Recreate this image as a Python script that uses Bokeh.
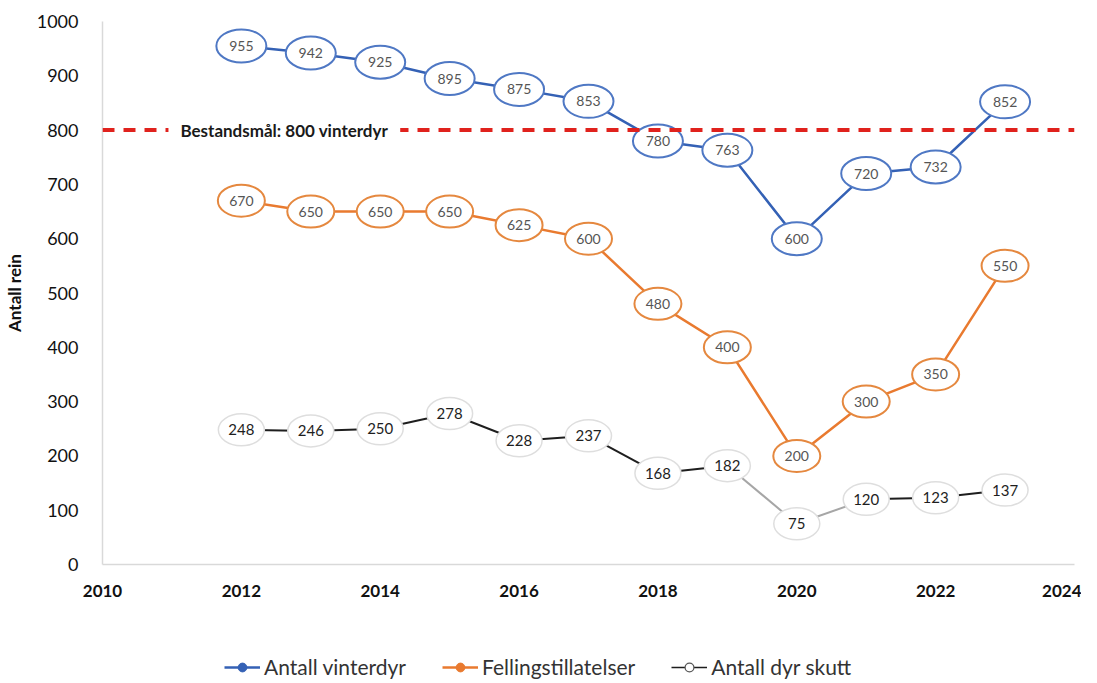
from bokeh.plotting import figure
from bokeh.layouts import column
from bokeh.models import (Legend, LegendItem, Label, ColumnDataSource, FixedTicker, Span)
from bokeh.embed import file_html
from bokeh.resources import INLINE
from bokeh.core.properties import value

# ---- data ----
years = [2012, 2013, 2014, 2015, 2016, 2017, 2018, 2019, 2020, 2021, 2022, 2023]
vinterdyr = [955, 942, 925, 895, 875, 853, 780, 763, 600, 720, 732, 852]
fellingstillatelser = [670, 650, 650, 650, 625, 600, 480, 400, 200, 300, 350, 550]
dyr_skutt = [248, 246, 250, 278, 228, 237, 168, 182, 75, 120, 123, 137]
bestandsmaal = 800
bestandsmaal_label = "Bestandsmål: 800 vinterdyr"
x_ticks = [2010, 2012, 2014, 2016, 2018, 2020, 2022, 2024]
y_ticks = [0, 100, 200, 300, 400, 500, 600, 700, 800, 900, 1000]
series_names = ["Antall vinterdyr", "Fellingstillatelser", "Antall dyr skutt"]
y_label = "Antall rein"

# ---- styles ----
BLUE_LINE = "#3461b5"
BLUE_EDGE = "#4f78c4"
ORANGE_LINE = "#e97a2f"
ORANGE_EDGE = "#e5883f"
GRAY_EDGE = "#dedede"
GRAY_DARK = "#1e1e1e"
GRAY_LIGHT = "#a6a6a6"
FONT = "Lato"
W = 1081

p = figure(width=W, height=603, output_backend="svg", toolbar_location=None,
           x_range=(x_ticks[0], x_ticks[-1]), y_range=(y_ticks[0], y_ticks[-1]),
           min_border_left=93, min_border_right=7, min_border_top=21,
           min_border_bottom=39)
p.outline_line_color = None
p.xgrid.grid_line_color = None
p.ygrid.grid_line_color = None

p.xaxis.ticker = FixedTicker(ticks=x_ticks)
p.yaxis.ticker = FixedTicker(ticks=y_ticks)
for ax in (p.xaxis, p.yaxis):
    ax.axis_line_color = "#d9d9d9"
    ax.axis_line_width = 1.5
    ax.major_tick_line_color = None
    ax.minor_tick_line_color = None
    ax.major_label_text_font = FONT
    ax.major_label_text_color = "#111111"
p.xaxis.major_label_text_font_style = "bold"
p.xaxis.major_label_text_font_size = "17px"
p.xaxis.major_label_standoff = 14
p.yaxis.major_label_text_font_size = "18px"
p.yaxis.major_label_standoff = 18
p.yaxis.axis_label = y_label
p.yaxis.axis_label_text_font = FONT
p.yaxis.axis_label_text_font_style = "bold"
p.yaxis.axis_label_text_font_size = "17px"
p.yaxis.axis_label_text_color = "#111111"
p.yaxis.axis_label_standoff = 9

# target line
span = Span(location=bestandsmaal, dimension="width", line_color="#e0221d",
            line_width=4, line_dash="12 9")
p.add_layout(span)
p.add_layout(Label(x=2010.95, y=bestandsmaal, text=bestandsmaal_label,
                   text_font=FONT, text_font_style="bold", text_font_size="17px",
                   text_color="#1a1a1a", text_baseline="middle",
                   background_fill_color="white", padding=12))

# blue series
src_b = ColumnDataSource(dict(x=years, y=vinterdyr, t=[str(v) for v in vinterdyr]))
p.line("x", "y", source=src_b, line_color=BLUE_LINE, line_width=2.5)
p.ellipse("x", "y", width=50, height=33, width_units="screen", height_units="screen",
          source=src_b, fill_color="white", line_color=BLUE_EDGE, line_width=2)
p.text("x", "y", text="t", source=src_b, text_align="center", text_baseline="middle",
       text_font=value(FONT), text_font_size="14px", text_color="#555555")

# orange series
src_o = ColumnDataSource(dict(x=years, y=fellingstillatelser,
                              t=[str(v) for v in fellingstillatelser]))
p.line("x", "y", source=src_o, line_color=ORANGE_LINE, line_width=2.5)
p.ellipse("x", "y", width=47, height=32, width_units="screen", height_units="screen",
          source=src_o, fill_color="white", line_color=ORANGE_EDGE, line_width=2)
p.text("x", "y", text="t", source=src_o, text_align="center", text_baseline="middle",
       text_font=value(FONT), text_font_size="14px", text_color="#555555")

# gray series
seg_colors = [GRAY_DARK] * (len(years) - 1)
seg_colors[7] = GRAY_LIGHT
seg_colors[8] = GRAY_LIGHT
src_g_seg = ColumnDataSource(dict(x0=years[:-1], x1=years[1:], y0=dyr_skutt[:-1],
                                  y1=dyr_skutt[1:], c=seg_colors))
p.segment("x0", "y0", "x1", "y1", source=src_g_seg, line_color="c", line_width=2)
src_g = ColumnDataSource(dict(x=years, y=dyr_skutt, t=[str(v) for v in dyr_skutt]))
p.ellipse("x", "y", width=46, height=32, width_units="screen", height_units="screen",
          source=src_g, fill_color="white", line_color=GRAY_EDGE, line_width=1.5)
p.text("x", "y", text="t", source=src_g, text_align="center", text_baseline="middle",
       text_font=value(FONT), text_font_size="15px", text_color="#1e1e1e")

# ---- legend strip (same data, ranges keep the marks out of view) ----
lf = figure(width=W, height=76, output_backend="svg", toolbar_location=None,
            x_range=(0, 1), y_range=(0, 1), x_axis_type=None, y_axis_type=None,
            min_border_left=93, min_border_right=7, min_border_top=0, min_border_bottom=0)
lf.outline_line_color = None
lf.xgrid.grid_line_color = None
lf.ygrid.grid_line_color = None
l1 = lf.line("x", "y", source=src_b, line_color=BLUE_LINE, line_width=2.5)
s1 = lf.scatter("x", "y", source=src_b, size=9, fill_color=BLUE_LINE, line_color=BLUE_LINE)
l2 = lf.line("x", "y", source=src_o, line_color=ORANGE_LINE, line_width=2.5)
s2 = lf.scatter("x", "y", source=src_o, size=9, fill_color=ORANGE_LINE, line_color=ORANGE_LINE)
l3 = lf.line("x", "y", source=src_g, line_color=GRAY_DARK, line_width=1.5)
s3 = lf.scatter("x", "y", source=src_g, size=8, fill_color="white", line_color="#555555",
                line_width=1.2)
legend = Legend(items=[LegendItem(label=series_names[0], renderers=[l1, s1]),
                       LegendItem(label=series_names[1], renderers=[l2, s2]),
                       LegendItem(label=series_names[2], renderers=[l3, s3])],
                location=(122, 0), orientation="horizontal",
                label_text_font=FONT, label_text_font_size="21px",
                label_text_color="#333333", glyph_width=36, glyph_height=22,
                label_standoff=4, spacing=36, padding=0, margin=0,
                border_line_color=None, background_fill_alpha=0)
lf.add_layout(legend, "center")

layout = column(p, lf, spacing=0)
open("out.html", "w").write(file_html(layout, INLINE))
